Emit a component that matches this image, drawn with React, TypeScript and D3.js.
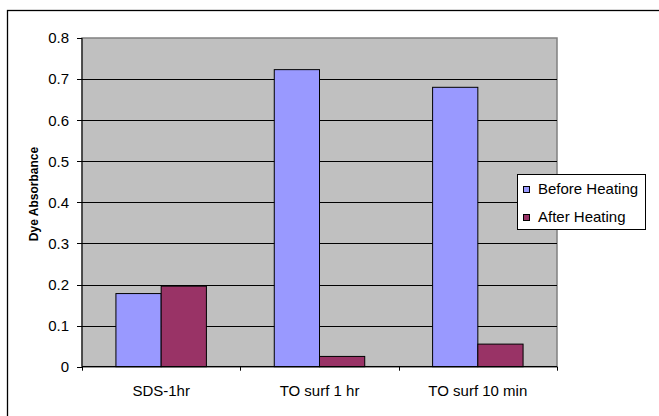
import React from "react";
import * as d3 from "d3";

const categories = ["SDS-1hr", "TO surf 1 hr", "TO surf 10 min"];
const seriesNames = ["Before Heating", "After Heating"];
const beforeHeating = [0.178, 0.723, 0.68];
const afterHeating = [0.196, 0.025, 0.055];
const yTicks = [0, 0.1, 0.2, 0.3, 0.4, 0.5, 0.6, 0.7, 0.8];
const colors = ["#9999FF", "#993366"];

export default function App() {
  const W = 659, H = 416;
  const left = 82, right = 557, top = 38, bottom = 366.7;
  const y = d3.scaleLinear().domain([0, 0.8]).range([bottom, top]);
  const x = d3.scaleBand<string>().domain(categories).range([left, right]).padding(0);
  const xs = d3.scaleBand<string>().domain(seriesNames).range([0, x.bandwidth()]).paddingInner(0).paddingOuter(0.75);
  const series = [beforeHeating, afterHeating];
  const font = "'Liberation Sans', Arial, sans-serif";
  const fmt = (v: number) => (v === 0 ? "0" : d3.format(".1f")(v));
  const r = (v: number) => Math.round(v) + 0.5;

  return (
    <svg width={W} height={H} style={{ position: "absolute", left: 0, top: 0 }} fontFamily={font}>
      <rect x={0} y={0} width={W} height={H} fill="#fff" />
      <rect x={7.5} y={10.5} width={800} height={600} fill="#fff" stroke="#000" strokeWidth={1.3} />
      {/* plot area */}
      <rect x={left} y={top} width={right - left} height={bottom - top} fill="#C0C0C0" stroke="#808080" strokeWidth={1.5} />
      {yTicks.filter((t) => t > 0 && t < 0.8).map((t) => (
        <line key={t} x1={left} x2={right} y1={r(y(t))} y2={r(y(t))} stroke="#000" strokeWidth={1} />
      ))}
      {/* bars */}
      {series.map((vals, si) =>
        categories.map((c, ci) => {
          const bx = (x(c) as number) + (xs(seriesNames[si]) as number);
          return (
            <rect key={si + "-" + ci} x={bx} y={y(vals[ci])} width={xs.bandwidth()} height={bottom - y(vals[ci])}
              fill={colors[si]} stroke="#000" strokeWidth={1} />
          );
        })
      )}
      {/* axes */}
      <line x1={left} x2={left} y1={top} y2={bottom} stroke="#000" strokeWidth={1} />
      <line x1={left} x2={right} y1={bottom} y2={bottom} stroke="#000" strokeWidth={1.3} />
      {yTicks.map((t) => (
        <g key={t}>
          <line x1={77} x2={left} y1={r(y(t))} y2={r(y(t))} stroke="#000" />
          <text x={69} y={y(t)} dy="0.36em" textAnchor="end" fontSize={15}>{fmt(t)}</text>
        </g>
      ))}
      {[...categories.map((c) => x(c) as number), right].map((tx, i) => (
        <line key={i} x1={r(tx)} x2={r(tx)} y1={bottom} y2={bottom + 4} stroke="#000" />
      ))}
      {categories.map((c) => (
        <text key={c} x={(x(c) as number) + x.bandwidth() / 2} y={396} textAnchor="middle" fontSize={15}>{c}</text>
      ))}
      <text transform={`translate(38,194) rotate(-90)`} textAnchor="middle" fontSize={12} fontWeight="bold">Dye Absorbance</text>
      {/* legend */}
      <rect x={517.5} y={174.5} width={128} height={55} fill="#fff" stroke="#000" />
      {seriesNames.map((s, i) => (
        <g key={s}>
          <rect x={523.5} y={186.5 + i * 28} width={6} height={6} fill={colors[i]} stroke="#000" />
          <text x={538} y={194 + i * 28} fontSize={15}>{s}</text>
        </g>
      ))}
    </svg>
  );
}
